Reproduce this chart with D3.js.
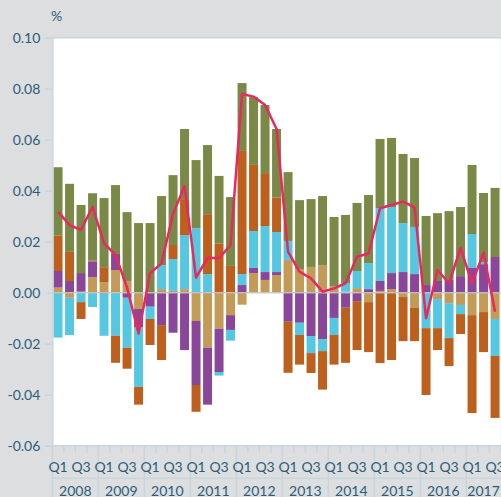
<!DOCTYPE html>
<html lang="en">
<head>
  <meta charset="utf-8">
  <title></title>
  <style>
    body { margin: 0; background: #dcdee0; }
    svg { display: block; font-family: Lato, "Open Sans", sans-serif; }
  </style>
</head>
<body>
  <div id="chart"></div>
  <script src="https://d3js.org/d3.v7.min.js"></script>
  <script>
    // quarters 2008 Q1 .. 2017 Q3
    var years = ["2008", "2009", "2010", "2011", "2012", "2013", "2014", "2015", "2016", "2017"];
    var quarters = [];
    years.forEach(function(y) {
      ["Q1", "Q2", "Q3", "Q4"].forEach(function(q) {
        if (!(y == "2017" && q == "Q4")) quarters.push(y + " " + q);
      });
    });

    // components
    var tan    = [0.002, -0.002, 0.0004, 0.0061, 0.0042, 0.0089, 0.0046, -0.0064, 0, 0.0014, 0.0007, 0.0014, -0.0111, -0.0216, -0.0141, -0.0088, -0.0047, 0.0077, 0.005, 0.0069, 0.0128, 0.0093, 0.0101, 0.0108, 0.0026, 0.0004, 0.0018, -0.0037, 0.0007, 0.0014, -0.0017, -0.006, 0, -0.0025, -0.0041, -0.0048, -0.0088, -0.0076, -0.0103];
    var purple = [0.0065, 0.0046, 0.0073, 0.0062, -0.0004, 0.0063, -0.002, -0.0073, -0.0055, -0.0127, -0.0157, -0.0225, -0.0251, -0.0223, -0.017, -0.0058, 0.003, 0.002, 0.0031, 0.0012, -0.0114, -0.0118, -0.017, -0.0182, -0.0099, -0.0059, -0.0033, 0.0014, 0.0039, 0.0063, 0.0081, 0.0073, 0.003, 0.0046, 0.005, 0.0065, 0.0097, 0.0112, 0.014];
    var cyan   = [-0.0176, -0.0146, -0.0037, -0.0056, -0.0165, -0.0169, -0.0196, -0.0232, -0.0048, 0.0094, 0.0125, 0.0212, 0.0253, 0.0073, -0.0014, -0.0042, 0.0043, 0.0145, 0.018, 0.0157, 0.0075, -0.0048, -0.0067, -0.0047, -0.0067, 0.0034, 0.0067, 0.0102, 0.0286, 0.0259, 0.0192, 0.0185, -0.0139, -0.0114, -0.0137, -0.0036, 0.0133, 0.0008, -0.0145];
    var orange = [0.014, 0.0114, -0.0066, 0.0004, 0.0058, -0.0106, -0.0082, -0.007, -0.0102, -0.0137, 0.0055, 0.0141, -0.0105, 0.0235, 0.0192, 0.0105, 0.0483, 0.0259, 0.0208, 0.0135, -0.02, -0.0116, -0.0078, -0.0151, -0.0116, -0.0216, -0.0192, -0.0196, -0.0276, -0.0264, -0.0173, -0.013, -0.0262, -0.0086, -0.011, -0.0078, -0.0384, -0.0157, -0.0243];
    var olive  = [0.0267, 0.0267, 0.0267, 0.0263, 0.0271, 0.027, 0.027, 0.0273, 0.0273, 0.0271, 0.0274, 0.0275, 0.0267, 0.0271, 0.0266, 0.027, 0.0266, 0.0266, 0.0267, 0.0269, 0.027, 0.027, 0.0266, 0.0271, 0.0271, 0.0267, 0.0267, 0.0267, 0.0271, 0.0271, 0.0271, 0.027, 0.0271, 0.0266, 0.027, 0.0271, 0.0271, 0.0271, 0.0271];
    var total  = [0.0318, 0.0265, 0.0246, 0.0337, 0.0193, 0.0148, 0.002, -0.016, 0.0076, 0.0115, 0.031, 0.0418, 0.0059, 0.0137, 0.0135, 0.0187, 0.0779, 0.0769, 0.0736, 0.0642, 0.0161, 0.0082, 0.0056, 0.0004, 0.0017, 0.0037, 0.0141, 0.0154, 0.0331, 0.0344, 0.0357, 0.0335, -0.01, 0.0089, 0.0037, 0.0176, 0.0037, 0.0157, -0.0075];

    var yTicks = [0.10, 0.08, 0.06, 0.04, 0.02, 0.00, -0.02, -0.04, -0.06];
    var qLabels = ["Q1", "Q3"];

    var keys = ["tan", "purple", "cyan", "orange", "olive"];
    var colors = {tan: "#c39b57", purple: "#8a4799", cyan: "#56c7e0", orange: "#bd5f1d", olive: "#7b8947"};
    var series = {tan: tan, purple: purple, cyan: cyan, orange: orange, olive: olive};

    var table = quarters.map(function(q, i) {
      var row = {q: q};
      keys.forEach(function(k) { row[k] = series[k][i]; });
      return row;
    });

    var w = 501, h = 497;
    var plotL = 52.3, plotR = 500.8, plotT = 37.7, plotB = 445.7;
    var textColor = "#2d5c79";
    var gridColor = "#c7d6dd";

    var svg = d3.select("#chart").append("svg").attr("width", w).attr("height", h);
    svg.append("rect").attr("width", w).attr("height", h).attr("fill", "#dcdee0");
    svg.append("rect").attr("x", plotL).attr("y", plotT)
      .attr("width", plotR - plotL).attr("height", plotB - plotT).attr("fill", "#fff");

    var xq = d3.scaleBand().domain(quarters).range([plotL, plotR]);
    var x = d3.scaleBand().domain(quarters).range([plotL, plotR]).paddingInner(0.22).paddingOuter(0.11);
    var y = d3.scaleLinear().domain([-0.06, 0.10]).range([plotB, plotT]);

    var stack = d3.stack().keys(keys).offset(d3.stackOffsetDiverging);
    var layers = stack(table);

    svg.append("g").selectAll("g").data(layers).enter().append("g")
      .attr("fill", function(d) { return colors[d.key]; })
      .selectAll("rect").data(function(d) { return d; }).enter().append("rect")
      .attr("x", function(d) { return x(d.data.q); })
      .attr("width", x.bandwidth())
      .attr("y", function(d) { return y(Math.max(d[0], d[1])); })
      .attr("height", function(d) { return Math.abs(y(d[0]) - y(d[1])); });

    // zero line
    svg.append("line").attr("x1", plotL).attr("x2", plotR)
      .attr("y1", y(0)).attr("y2", y(0))
      .attr("stroke", "#c3c7cb").attr("stroke-width", 1.5).attr("opacity", 0.85);

    // total line
    var line = d3.line()
      .x(function(d, i) { return xq(quarters[i]) + xq.bandwidth() / 2; })
      .y(function(d) { return y(d); });
    svg.append("path").datum(total).attr("d", line)
      .attr("fill", "none").attr("stroke", "#e8285e").attr("stroke-width", 2.5)
      .attr("stroke-linejoin", "round");

    // frame
    svg.append("line").attr("x1", plotL).attr("x2", w).attr("y1", plotT).attr("y2", plotT)
      .attr("stroke", gridColor).attr("stroke-width", 1.5);
    svg.append("line").attr("x1", plotL).attr("x2", w).attr("y1", plotB).attr("y2", plotB)
      .attr("stroke", gridColor).attr("stroke-width", 1.5);

    // y axis
    var yAxis = d3.axisLeft(y).tickValues(yTicks).tickSize(7).tickPadding(5)
      .tickFormat(function(d) { return d.toFixed(2); });
    var gy = svg.append("g").attr("transform", "translate(" + plotL + ",0)").call(yAxis);
    gy.select(".domain").attr("stroke", gridColor).attr("stroke-width", 1.5);
    gy.selectAll(".tick line").attr("stroke", gridColor).attr("stroke-width", 1.5);
    gy.selectAll(".tick text").attr("fill", textColor).style("font-size", "14px")
      .style("font-family", "Lato, sans-serif");

    svg.append("text").attr("x", 51).attr("y", 21).text("%")
      .attr("fill", textColor).style("font-size", "14px");

    // x axis: quarter ticks, quarter labels, year cells
    var gx = svg.append("g");
    gx.selectAll(".qt").data(quarters.concat(["end"])).enter().append("line")
      .attr("x1", function(d, i) { return plotL + i * xq.step(); })
      .attr("x2", function(d, i) { return plotL + i * xq.step(); })
      .attr("y1", plotB)
      .attr("y2", function(d, i) { return i % 4 == 0 ? h : plotB + 7; })
      .attr("stroke", gridColor).attr("stroke-width", 1.5);
    gx.append("line").attr("x1", plotL).attr("x2", w).attr("y1", 478.3).attr("y2", 478.3)
      .attr("stroke", gridColor).attr("stroke-width", 1.5);
    gx.selectAll(".ql").data(quarters.filter(function(q) { return qLabels.indexOf(q.split(" ")[1]) >= 0; }))
      .enter().append("text")
      .attr("x", function(d) { return xq(d) + xq.bandwidth() / 2; })
      .attr("y", 472)
      .attr("text-anchor", "middle")
      .attr("fill", textColor).style("font-size", "14px")
      .text(function(d) { return d.split(" ")[1]; });
    gx.selectAll(".yl").data(years).enter().append("text")
      .attr("x", function(d) {
        var qs = quarters.filter(function(q) { return q.indexOf(d) == 0; });
        return (xq(qs[0]) + xq(qs[qs.length - 1]) + xq.bandwidth()) / 2;
      })
      .attr("y", 496)
      .attr("text-anchor", "middle")
      .attr("fill", textColor).style("font-size", "14px")
      .text(function(d) { return d; });
  </script>
</body>
</html>
